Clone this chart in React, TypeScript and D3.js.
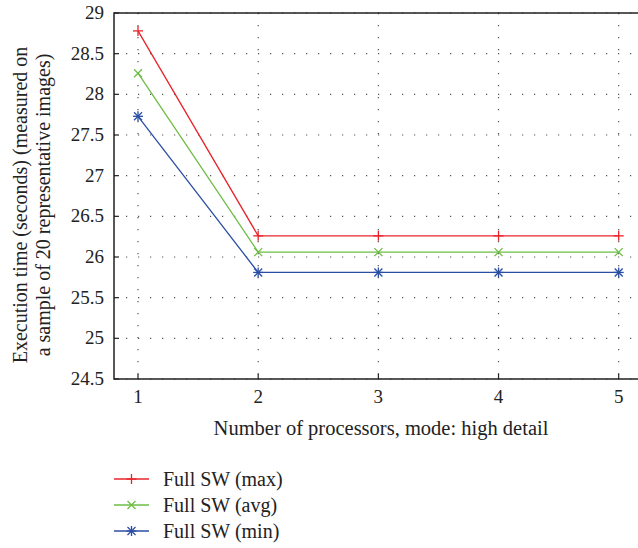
import React, { useEffect, useRef } from 'react'
import * as d3 from 'd3'

const processors = [1, 2, 3, 4, 5]
const maxTimes = [28.78, 26.26, 26.26, 26.26, 26.26]
const avgTimes = [28.26, 26.06, 26.06, 26.06, 26.06]
const minTimes = [27.73, 25.81, 25.81, 25.81, 25.81]
const yTicks = [24.5, 25, 25.5, 26, 26.5, 27, 27.5, 28, 28.5, 29]
const seriesNames = ['Full SW (max)', 'Full SW (avg)', 'Full SW (min)']

const font = '"Liberation Serif", "DejaVu Serif", serif'

export default function App() {
  const svgRef = useRef<SVGSVGElement>(null)

  useEffect(() => {
    const svg = d3.select(svgRef.current)
    svg.selectAll('*').remove()

    const left = 114
    const top = 13
    const bottom = 379

    const x = d3.scaleLinear().domain([1, 5]).range([138, 618.7])
    const y = d3.scaleLinear().domain([24.5, 29]).range([bottom, top])
    const right = x(5.2)

    // dotted grid
    const grid = svg.append('g')
    yTicks.forEach(t => {
      grid.append('line')
        .attr('x1', left).attr('x2', right)
        .attr('y1', y(t)).attr('y2', y(t))
        .attr('stroke', '#555').attr('stroke-width', 1.2)
        .attr('stroke-dasharray', '1.2 10.8')
    })
    processors.forEach(p => {
      grid.append('line')
        .attr('x1', x(p)).attr('x2', x(p))
        .attr('y1', top).attr('y2', bottom)
        .attr('stroke', '#555').attr('stroke-width', 1.2)
        .attr('stroke-dasharray', '1.2 10.8')
    })

    // frame
    svg.append('path')
      .attr('d', `M${right},${top}H${left}V${bottom}H${right}`)
      .attr('fill', 'none').attr('stroke', '#222').attr('stroke-width', 1.5)

    // ticks
    processors.forEach(p => {
      svg.append('line').attr('x1', x(p)).attr('x2', x(p)).attr('y1', bottom).attr('y2', bottom - 5)
        .attr('stroke', '#222').attr('stroke-width', 1.2)
      svg.append('text').attr('x', x(p)).attr('y', bottom + 24)
        .attr('text-anchor', 'middle').style('font-family', font).style('font-size', '19px')
        .attr('fill', '#222').text(p)
    })
    yTicks.forEach(t => {
      svg.append('line').attr('x1', left).attr('x2', left + 5).attr('y1', y(t)).attr('y2', y(t))
        .attr('stroke', '#222').attr('stroke-width', 1.2)
      svg.append('text').attr('x', left - 10).attr('y', y(t) + 6)
        .attr('text-anchor', 'end').style('font-family', font).style('font-size', '19px')
        .attr('fill', '#222').text(t)
    })

    // axis titles
    svg.append('text').attr('x', 381).attr('y', bottom + 56)
      .attr('text-anchor', 'middle').style('font-family', font).style('font-size', '20.5px')
      .attr('fill', '#222').text('Number of processors, mode: high detail')
    const yt = svg.append('text').attr('transform', `translate(27,205) rotate(-90)`)
      .attr('text-anchor', 'middle').style('font-family', font).style('font-size', '20px')
      .attr('fill', '#222')
    yt.append('tspan').attr('x', 0).attr('y', 0).text('Execution time (seconds) (measured on')
    yt.append('tspan').attr('x', 0).attr('y', 23).text('a sample of 20 representative images)')

    const series = [
      { name: seriesNames[0], values: maxTimes, color: '#e8242b', marker: 'plus' },
      { name: seriesNames[1], values: avgTimes, color: '#6dbd45', marker: 'cross' },
      { name: seriesNames[2], values: minTimes, color: '#2b4ea5', marker: 'star' },
    ]

    const drawMarker = (g: any, cx: number, cy: number, kind: string, color: string) => {
      const s = 5
      const segs: number[][] = []
      if (kind === 'plus' || kind === 'star') segs.push([cx - s, cy, cx + s, cy], [cx, cy - s, cx, cy + s])
      if (kind === 'cross' || kind === 'star') segs.push([cx - s * 0.8, cy - s * 0.8, cx + s * 0.8, cy + s * 0.8], [cx - s * 0.8, cy + s * 0.8, cx + s * 0.8, cy - s * 0.8])
      segs.forEach(([a, b, c, d]) => {
        g.append('line').attr('x1', a).attr('y1', b).attr('x2', c).attr('y2', d)
          .attr('stroke', color).attr('stroke-width', 1.3)
      })
    }

    const line = d3.line<number>().x((_, i) => x(processors[i])).y(d => y(d))

    series.forEach((s, si) => {
      svg.append('path').datum(s.values).attr('d', line)
        .attr('fill', 'none').attr('stroke', s.color).attr('stroke-width', 1.3)
      s.values.forEach((v, i) => drawMarker(svg, x(processors[i]), y(v), s.marker, s.color))

      const ly = 479 + si * 26
      svg.append('line').attr('x1', 114).attr('x2', 149).attr('y1', ly).attr('y2', ly)
        .attr('stroke', s.color).attr('stroke-width', 1.3)
      drawMarker(svg, 131.5, ly, s.marker, s.color)
      svg.append('text').attr('x', 163).attr('y', ly + 7)
        .style('font-family', font).style('font-size', '20px').attr('fill', '#222').text(s.name)
    })
  }, [])

  return (
    <svg ref={svgRef} width={638} height={548}
      style={{ position: 'absolute', left: 0, top: 0, background: '#fff' }} />
  )
}
